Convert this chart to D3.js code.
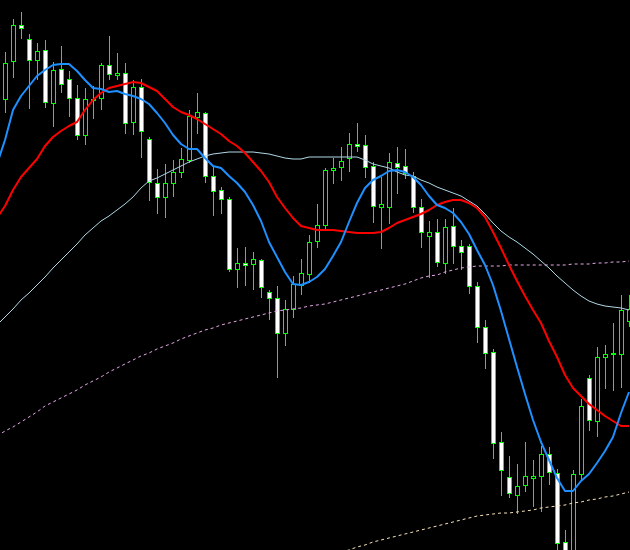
<!DOCTYPE html>
<html>
<head>
<meta charset="utf-8">
<script src="https://cdn.jsdelivr.net/npm/d3@7"></script>
<style>
  html, body { margin: 0; padding: 0; background: #000; overflow: hidden; }
  svg { display: block; }
</style>
</head>
<body>
<svg id="chart" width="630" height="550"></svg>
<script>
// Candle data (first bar lies just outside the left edge)
const openP = [1.3470,
  1.3501,1.3539,1.3575,1.3561,1.3540,1.3550,1.3497,1.3531,1.3521,1.3502,
  1.3465,1.3501,1.3502,1.3535,1.3525,1.3527,1.3478,1.3513,1.3461,1.3417,
  1.3403,1.3417,1.3428,1.3440,1.3483,1.3487,1.3424,1.3410,1.3401,1.3331,
  1.3337,1.3336,1.3340,1.3308,1.3302,1.3267,1.3291,1.3315,1.3326,1.3359,
  1.3375,1.3430,1.3433,1.3442,1.3456,1.3455,1.3434,1.3393,1.3393,1.3437,
  1.3434,1.3424,1.3393,1.3364,1.3368,1.3337,1.3374,1.3354,1.3354,1.3314,
  1.3273,1.3248,1.3158,1.3123,1.3105,1.3115,1.3122,1.3124,1.3146,1.3127,
  1.3058,1.3040,1.3126,1.3222,1.3179,1.3243,1.3246,1.3246,1.3279];
const highP = [1.3505,
  1.3548,1.3581,1.3588,1.3566,1.3557,1.3560,1.3538,1.3554,1.3529,1.3515,
  1.3512,1.3514,1.3537,1.3564,1.3547,1.3537,1.3520,1.3521,1.3463,1.3431,
  1.3436,1.3440,1.3452,1.3490,1.3507,1.3488,1.3434,1.3413,1.3403,1.3352,
  1.3353,1.3348,1.3341,1.3310,1.3314,1.3300,1.3324,1.3341,1.3365,1.3396,
  1.3432,1.3442,1.3453,1.3467,1.3477,1.3465,1.3438,1.3423,1.3447,1.3453,
  1.3451,1.3428,1.3401,1.3379,1.3381,1.3381,1.3392,1.3360,1.3356,1.3318,
  1.3280,1.3251,1.3168,1.3144,1.3136,1.3158,1.3140,1.3154,1.3153,1.3131,
  1.3070,1.3130,1.3201,1.3225,1.3253,1.3255,1.3277,1.3305,1.3305];
const lowP = [1.3460,
  1.3488,1.3523,1.3562,1.3492,1.3521,1.3493,1.3474,1.3508,1.3484,1.3461,
  1.3456,1.3482,1.3491,1.3521,1.3521,1.3467,1.3466,1.3443,1.3400,1.3387,
  1.3383,1.3404,1.3423,1.3438,1.3467,1.3418,1.3385,1.3387,1.3329,1.3313,
  1.3315,1.3311,1.3303,1.3281,1.3223,1.3255,1.3283,1.3306,1.3318,1.3353,
  1.3372,1.3417,1.3420,1.3429,1.3449,1.3423,1.3378,1.3352,1.3377,1.3407,
  1.3422,1.3388,1.3353,1.3323,1.3334,1.3327,1.3337,1.3331,1.3307,1.3258,
  1.3232,1.3142,1.3105,1.3103,1.3087,1.3109,1.3094,1.3089,1.3116,1.3040,
  1.3035,1.3032,1.3120,1.3170,1.3164,1.3212,1.3210,1.3213,1.3274];
const closeP = [1.3500,
  1.3537,1.3575,1.3572,1.3540,1.3549,1.3498,1.3530,1.3516,1.3502,1.3465,
  1.3501,1.3501,1.3535,1.3526,1.3527,1.3477,1.3513,1.3469,1.3418,1.3403,
  1.3417,1.3428,1.3441,1.3484,1.3488,1.3424,1.3409,1.3401,1.3331,1.3337,
  1.3335,1.3341,1.3313,1.3302,1.3267,1.3291,1.3316,1.3327,1.3358,1.3375,
  1.3430,1.3432,1.3439,1.3456,1.3454,1.3433,1.3394,1.3396,1.3438,1.3433,
  1.3427,1.3393,1.3368,1.3368,1.3338,1.3373,1.3354,1.3348,1.3314,1.3273,
  1.3247,1.3157,1.3130,1.3107,1.3114,1.3124,1.3124,1.3146,1.3128,1.3057,
  1.3044,1.3126,1.3194,1.3180,1.3243,1.3246,1.3247,1.3290,1.3291];

// Moving averages (one value per bar)
const maFast = [
  1.3436,1.3460,1.3490,1.3504,1.3514,1.3524,1.3530,1.3535,1.3536,1.3536,
  1.3529,1.3520,1.3512,1.3511,1.3508,1.3509,1.3506,1.3504,1.3501,1.3496,
  1.3487,1.3477,1.3465,1.3456,1.3451,1.3451,1.3442,1.3434,1.3432,1.3424,
  1.3417,1.3408,1.3395,1.3379,1.3358,1.3343,1.3328,1.3316,1.3315,1.3318,
  1.3323,1.3331,1.3344,1.3358,1.3378,1.3397,1.3412,1.3420,1.3424,1.3429,
  1.3430,1.3428,1.3423,1.3415,1.3404,1.3395,1.3392,1.3387,1.3378,1.3366,
  1.3350,1.3335,1.3315,1.3289,1.3261,1.3233,1.3206,1.3180,1.3158,1.3140,
  1.3122,1.3109,1.3109,1.3119,1.3126,1.3137,1.3149,1.3163,1.3187,1.3208];
const maMid = [
  1.3382,1.3394,1.3410,1.3423,1.3432,1.3441,1.3454,1.3463,1.3469,1.3474,
  1.3478,1.3490,1.3500,1.3507,1.3512,1.3514,1.3516,1.3518,1.3517,1.3513,
  1.3509,1.3501,1.3493,1.3488,1.3485,1.3481,1.3476,1.3471,1.3466,1.3459,
  1.3454,1.3447,1.3438,1.3429,1.3418,1.3403,1.3392,1.3382,1.3374,1.3372,
  1.3370,1.3370,1.3370,1.3369,1.3368,1.3367,1.3367,1.3367,1.3368,1.3372,
  1.3377,1.3380,1.3383,1.3386,1.3390,1.3395,1.3398,1.3400,1.3400,1.3397,
  1.3392,1.3383,1.3368,1.3352,1.3335,1.3319,1.3304,1.3290,1.3277,1.3259,
  1.3243,1.3225,1.3212,1.3204,1.3196,1.3190,1.3184,1.3179,1.3174,1.3174];
const maSlow = [
  1.3275,1.3283,1.3291,1.3300,1.3307,1.3315,1.3323,1.3332,1.3340,1.3348,
  1.3356,1.3365,1.3372,1.3379,1.3384,1.3390,1.3396,1.3403,1.3412,1.3419,
  1.3422,1.3426,1.3430,1.3434,1.3438,1.3441,1.3444,1.3446,1.3447,1.3448,
  1.3448,1.3448,1.3448,1.3447,1.3446,1.3444,1.3442,1.3441,1.3441,1.3443,
  1.3443,1.3443,1.3443,1.3443,1.3443,1.3443,1.3440,1.3436,1.3434,1.3432,
  1.3428,1.3425,1.3424,1.3420,1.3417,1.3413,1.3410,1.3407,1.3404,1.3399,
  1.3394,1.3386,1.3377,1.3369,1.3363,1.3358,1.3352,1.3346,1.3339,1.3332,
  1.3324,1.3317,1.3310,1.3304,1.3299,1.3296,1.3294,1.3293,1.3292,1.3290];
const bandUpper = [
  1.3164,1.3169,1.3173,1.3178,1.3183,1.3188,1.3194,1.3198,1.3202,1.3206,
  1.3210,1.3215,1.3219,1.3223,1.3228,1.3232,1.3236,1.3240,1.3244,1.3247,
  1.3251,1.3254,1.3257,1.3261,1.3264,1.3267,1.3270,1.3272,1.3275,1.3277,
  1.3279,1.3281,1.3283,1.3285,1.3287,1.3289,1.3290,1.3291,1.3292,1.3294,
  1.3295,1.3296,1.3298,1.3300,1.3302,1.3304,1.3306,1.3308,1.3310,1.3312,
  1.3314,1.3316,1.3319,1.3322,1.3324,1.3325,1.3328,1.3330,1.3332,1.3333,
  1.3334,1.3334,1.3334,1.3334,1.3335,1.3335,1.3335,1.3335,1.3335,1.3335,
  1.3335,1.3335,1.3336,1.3336,1.3336,1.3337,1.3337,1.3338,1.3338,1.3339];
const bandLowerStart = 43;
const bandLowerValues = [
  1.3048,1.3050,1.3053,1.3055,1.3058,1.3060,1.3062,1.3064,1.3066,1.3068,
  1.3070,1.3072,1.3074,1.3076,1.3078,1.3080,1.3082,1.3084,1.3085,1.3086,
  1.3087,1.3087,1.3088,1.3089,1.3090,1.3092,1.3093,1.3094,1.3095,1.3097,
  1.3098,1.3100,1.3101,1.3103,1.3104,1.3106,1.3108];

const N = openP.length;
const bars = openP.map((o, i) => ({ i, o, h: highP[i], l: lowP[i], c: closeP[i] }));

const W = 630, H = 550;
const svg = d3.select("#chart");
svg.append("rect").attr("width", W).attr("height", H).attr("fill", "#000");

const x = d3.scaleLinear().domain([0, N - 1]).range([-3, 629]);
const y = d3.scaleLinear().domain([1.3600, 1.3050]).range([0, 550]);

const px = v => Math.round(x(v));
const py = v => Math.round(y(v));

const g = svg.append("g");

// Candles
const cg = g.append("g").attr("class", "candles").attr("shape-rendering", "crispEdges");
cg.selectAll("line.wick").data(bars).join("line")
  .attr("class", "wick")
  .attr("x1", d => px(d.i) + 0.5).attr("x2", d => px(d.i) + 0.5)
  .attr("y1", d => py(d.h)).attr("y2", d => py(d.l) + 1)
  .attr("stroke", "#00ff00").attr("stroke-width", 1);

cg.selectAll("rect.body").data(bars).join("rect")
  .attr("class", "body")
  .attr("x", d => px(d.i) - 1.5)
  .attr("width", 4)
  .attr("y", d => py(Math.max(d.o, d.c)) + 0.5)
  .attr("height", d => Math.max(1, py(Math.min(d.o, d.c)) - py(Math.max(d.o, d.c))))
  .attr("fill", d => d.c < d.o ? "#ffffff" : "#000000")
  .attr("stroke", "#00ff00").attr("stroke-width", 1);

const lineGen = d3.line()
  .defined(d => d != null)
  .x((d, i) => x(i))
  .y(d => y(d));

const bandLower = new Array(bandLowerStart).fill(null).concat(bandLowerValues);

const lines = [
  { data: bandUpper, color: "#e6a8e6", width: 1, dash: "3,3" },
  { data: bandLower, color: "#f8e2b8", width: 1, dash: "3,3" },
  { data: maSlow, color: "#b0d8e6", width: 1, dash: null },
  { data: maMid, color: "#ff0000", width: 2, dash: null },
  { data: maFast, color: "#1e90ff", width: 2, dash: null }
];

g.append("g").selectAll("path").data(lines).join("path")
  .attr("d", d => lineGen(d.data))
  .attr("fill", "none")
  .attr("stroke", d => d.color)
  .attr("stroke-width", d => d.width)
  .attr("stroke-dasharray", d => d.dash)
  .attr("stroke-linejoin", "round");
</script>
</body>
</html>
